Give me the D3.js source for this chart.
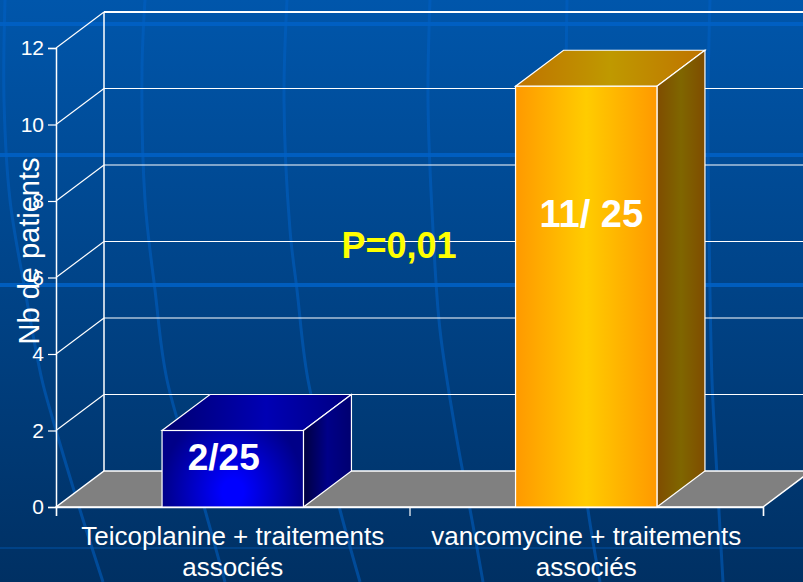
<!DOCTYPE html>
<html>
<head>
<meta charset="utf-8">
<script src="https://cdnjs.cloudflare.com/ajax/libs/d3/7.8.5/d3.min.js"></script>
<style>
  html, body { margin: 0; padding: 0; background: #003366; overflow: hidden; }
  svg { display: block; }
  text { font-family: "Liberation Sans", Arial, sans-serif; }
</style>
</head>
<body>
<svg id="chart"></svg>
<script>
// chart data
var categories = ['Teicoplanine + traitements', 'vancomycine + traitements'];
var secondLine = ['associés', 'associés'];
var values = [2, 11];
var barLabels = ['2/25', '11/ 25'];
var barLabelOffsets = [-9, 5];
var barLabelBaselines = [470, 227];
var barLabelSizes = [37, 38];
var yTicks = [0, 2, 4, 6, 8, 10, 12];
var yTitle = 'Nb de patients';
var annotation = 'P=0,01';

// slide background streaks
var hStreaks = [24, 155, 285, 548];
var vStreaks = [
  [[5, 0], [4, 100], [10, 200], [25, 290], [42, 380], [53, 420], [80, 510], [103, 582]],
  [[145, 0], [142, 70], [145, 200], [155, 290], [167, 380], [205, 510], [225, 582]],
  [[287, 0], [284, 100], [290, 230], [297, 290], [308, 380], [340, 510], [360, 582]],
  [[430, 0], [428, 100], [433, 230], [440, 330], [457, 440], [472, 520], [483, 582]],
  [[567, 0], [566, 100], [568, 230], [572, 380], [588, 510], [600, 582]],
  [[710, 0], [708, 100], [709, 230], [712, 380], [715, 440], [723, 582]]
];

var width = 803, height = 582;
var left = 56, right = 763, bottom = 507, top12 = 48;
var depthX = 48, depthY = -36;

var svg = d3.select('#chart').attr('width', width).attr('height', height);
var defs = svg.append('defs');

function linear(id, stops, horizontal) {
  var g = defs.append('linearGradient').attr('id', id)
    .attr('x1', 0).attr('y1', 0)
    .attr('x2', horizontal ? 1 : 0).attr('y2', horizontal ? 0 : 1);
  stops.forEach(function(s) {
    g.append('stop').attr('offset', s[0]).attr('stop-color', s[1]);
  });
}

linear('bg', [[0, '#0056ab'], [1, '#003063']], false);
linear('orangeFront', [[0, '#ff9900'], [0.5, '#ffcc00'], [1, '#ff9900']], true);
linear('orangeTop', [[0, '#bf7300'], [0.5, '#bf9900'], [1, '#bf7300']], true);
linear('orangeSide', [[0, '#7f4c00'], [0.5, '#7f6600'], [1, '#7f4c00']], true);
linear('blueTop', [[0, '#000070'], [0.55, '#0000b4'], [1, '#000080']], true);
linear('blueSide', [[0, '#000040'], [0.5, '#000088'], [1, '#000070']], true);

// wide glow low in the middle of the blue bar
var blueFront = defs.append('radialGradient').attr('id', 'blueFront')
  .attr('cx', 0.5).attr('cy', 0.8).attr('r', 0.5)
  .attr('gradientTransform', 'translate(0,0.8) scale(1,2.2) translate(0,-0.8)');
blueFront.append('stop').attr('offset', 0).attr('stop-color', '#0000ff');
blueFront.append('stop').attr('offset', 0.15).attr('stop-color', '#0000ff');
blueFront.append('stop').attr('offset', 1).attr('stop-color', '#000088');

var fronts = ['url(#blueFront)', 'url(#orangeFront)'];
var tops = ['url(#blueTop)', 'url(#orangeTop)'];
var sides = ['url(#blueSide)', 'url(#orangeSide)'];

// background
svg.append('rect').attr('width', width).attr('height', height).attr('fill', 'url(#bg)');

var streaks = svg.append('g').attr('fill', 'none').attr('stroke', '#0060c4');
streaks.selectAll('line').data(hStreaks).enter().append('line')
  .attr('x1', 0).attr('x2', width)
  .attr('y1', function(d) { return d; }).attr('y2', function(d) { return d; })
  .attr('stroke-width', function(d) { return d === 548 ? 2 : 4; })
  .attr('opacity', function(d) { return d === 548 ? 0.35 : 0.9; });
var streakLine = d3.line().curve(d3.curveCatmullRom);
streaks.selectAll('path').data(vStreaks).enter().append('path')
  .attr('d', streakLine)
  .attr('stroke-width', 3)
  .attr('opacity', 0.55);

// scales
var y = d3.scaleLinear().domain([0, 12]).range([bottom, top12]);
var x = d3.scaleBand().domain(categories).range([left, right]).paddingInner(0.6).paddingOuter(0.3);
var xEdges = d3.scaleLinear().domain([0, categories.length]).range([left, right]);

// floor
var floor = [[left, bottom], [right, bottom], [right + depthX, bottom + depthY], [left + depthX, bottom + depthY]];
svg.append('polygon')
  .attr('points', floor.join(' '))
  .attr('fill', '#808080')
  .attr('stroke', '#fff')
  .attr('stroke-width', 1.5);

// back wall and side wall grid lines
var grid = svg.append('g').attr('stroke', '#fff').attr('fill', 'none');
grid.selectAll('.back').data(yTicks.slice(1)).enter().append('line')
  .attr('class', 'back')
  .attr('x1', left + depthX).attr('x2', right + depthX)
  .attr('y1', function(d) { return y(d) + depthY; })
  .attr('y2', function(d) { return y(d) + depthY; })
  .attr('stroke-width', function(d) { return d === 12 ? 2 : 1.2; });
grid.selectAll('.side').data(yTicks.slice(1)).enter().append('line')
  .attr('class', 'side')
  .attr('x1', left).attr('x2', left + depthX)
  .attr('y1', function(d) { return y(d); })
  .attr('y2', function(d) { return y(d) + depthY; })
  .attr('stroke-width', 1.2);
grid.append('line')
  .attr('x1', left + depthX).attr('x2', left + depthX)
  .attr('y1', y(12) + depthY).attr('y2', y(0) + depthY)
  .attr('stroke-width', 1.5);

// axes
var yAxis = d3.axisLeft(y).tickValues(yTicks).tickSize(8).tickPadding(4);
var xAxis = d3.axisBottom(xEdges).tickValues(d3.range(categories.length + 1))
  .tickSize(9).tickFormat('');

var gy = svg.append('g').attr('transform', 'translate(' + left + ',0)').call(yAxis);
var gx = svg.append('g').attr('transform', 'translate(0,' + bottom + ')').call(xAxis);
svg.selectAll('.domain').attr('stroke', '#fff').attr('stroke-width', 1.5);
svg.selectAll('.tick line').attr('stroke', '#fff').attr('stroke-width', 1.2);
gy.selectAll('text')
  .attr('fill', '#fff')
  .style('font-family', '"Liberation Sans", Arial, sans-serif')
  .style('font-size', '21px');

// bars
var bars = svg.selectAll('.bar').data(values).enter().append('g').attr('class', 'bar');

function barX(i) { return x(categories[i]); }

bars.append('polygon')
  .attr('fill', function(d, i) { return tops[i]; })
  .attr('stroke', '#fff').attr('stroke-width', 1.2)
  .attr('points', function(d, i) {
    var x0 = barX(i), x1 = x0 + x.bandwidth(), yt = y(d);
    return [[x0, yt], [x1, yt], [x1 + depthX, yt + depthY], [x0 + depthX, yt + depthY]].join(' ');
  });
bars.append('polygon')
  .attr('fill', function(d, i) { return sides[i]; })
  .attr('stroke', '#fff').attr('stroke-width', 1.2)
  .attr('points', function(d, i) {
    var x1 = barX(i) + x.bandwidth(), yt = y(d);
    return [[x1, yt], [x1 + depthX, yt + depthY], [x1 + depthX, bottom + depthY], [x1, bottom]].join(' ');
  });
bars.append('rect')
  .attr('x', function(d, i) { return barX(i); })
  .attr('y', function(d) { return y(d); })
  .attr('width', x.bandwidth())
  .attr('height', function(d) { return bottom - y(d); })
  .attr('fill', function(d, i) { return fronts[i]; })
  .attr('stroke', '#fff').attr('stroke-width', 1.2);

// category labels
var catLabels = svg.selectAll('.cat').data(categories).enter().append('text')
  .attr('class', 'cat')
  .attr('text-anchor', 'middle')
  .attr('fill', '#fff')
  .style('font-size', '26px');
catLabels.append('tspan')
  .attr('x', function(d) { return x(d) + x.bandwidth() / 2; })
  .attr('y', 545)
  .text(function(d) { return d; });
catLabels.append('tspan')
  .attr('x', function(d) { return x(d) + x.bandwidth() / 2; })
  .attr('y', 576)
  .text(function(d, i) { return secondLine[i]; });

// axis title
svg.append('text')
  .attr('transform', 'translate(39,251) rotate(-90)')
  .attr('text-anchor', 'middle')
  .attr('fill', '#fff')
  .style('font-size', '29px')
  .text(yTitle);

// labels typed on the bars
svg.selectAll('.barLabel').data(barLabels).enter().append('text')
  .attr('class', 'barLabel')
  .attr('x', function(d, i) { return barX(i) + x.bandwidth() / 2 + barLabelOffsets[i]; })
  .attr('y', function(d, i) { return barLabelBaselines[i]; })
  .attr('text-anchor', 'middle')
  .attr('fill', '#fff')
  .style('font-size', function(d, i) { return barLabelSizes[i] + 'px'; })
  .style('font-weight', 'bold')
  .text(function(d) { return d; });

svg.append('text')
  .attr('x', 399).attr('y', 258)
  .attr('text-anchor', 'middle')
  .attr('fill', '#ffff00')
  .style('font-size', '36px')
  .style('font-weight', 'bold')
  .text(annotation);
</script>
</body>
</html>
